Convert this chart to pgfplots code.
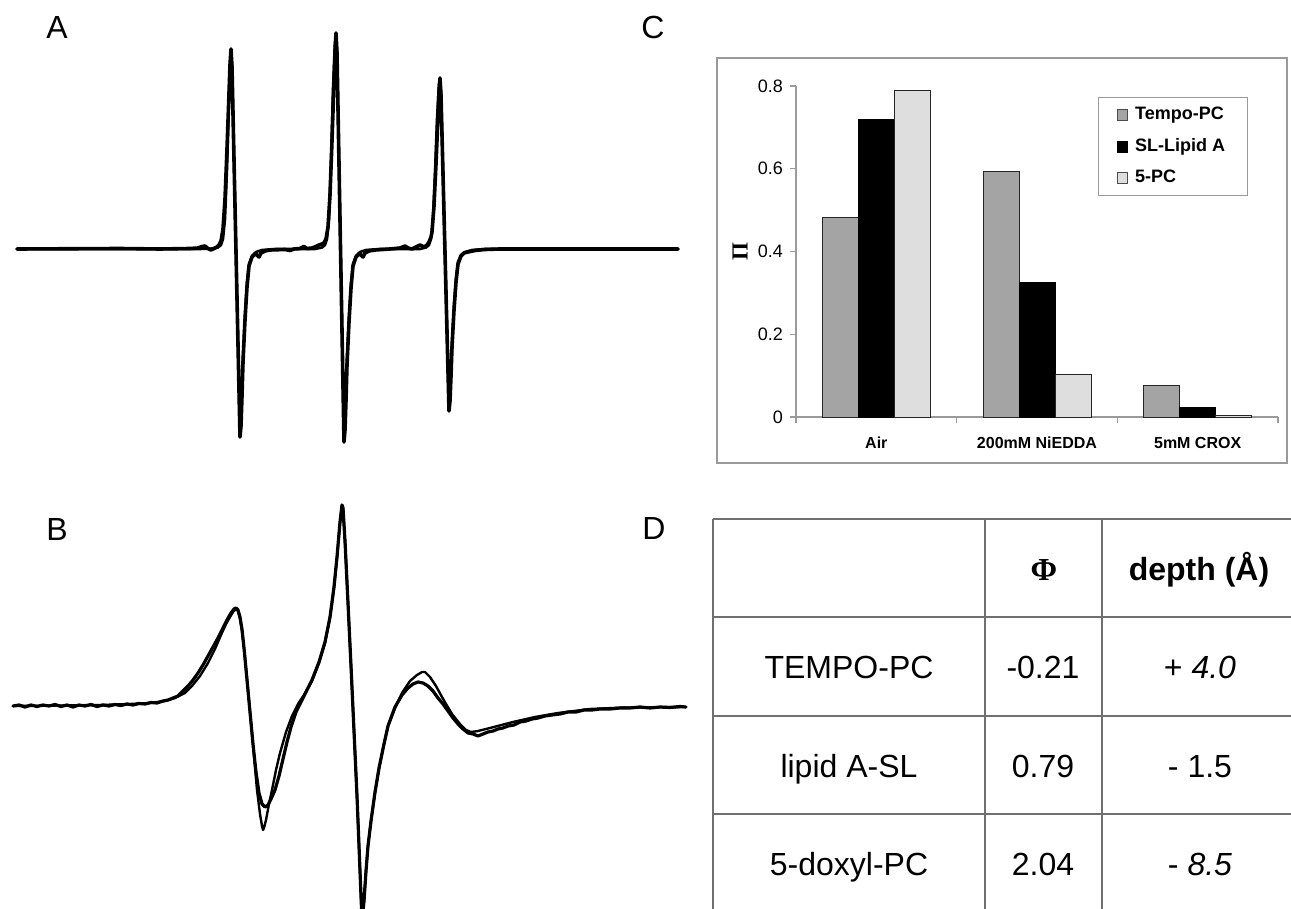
\documentclass[border=0pt]{standalone}
\usepackage{pgfplots}
\pgfplotsset{compat=1.18}
\usepackage{fontspec}
\setmainfont{Liberation Sans}
\newfontfamily\timesfont{Liberation Serif}
\definecolor{tempo}{HTML}{A4A4A4}
\definecolor{fivepc}{HTML}{DEDEDE}
\definecolor{framegray}{HTML}{9A9A9A}
\definecolor{tablegray}{HTML}{707070}
\begin{document}
\begin{tikzpicture}
\useasboundingbox (0,0) rectangle (645.5pt,-454.5pt);
% ---------------- Panel A ----------------
\begin{axis}[at={(0pt,0pt)}, anchor=north west, scale only axis,
  width=350pt, height=230pt, xmin=0, xmax=700, ymin=-211, ymax=249,
  hide axis, clip=false]
\addplot[black, line width=1.8pt, line join=round, line cap=round] coordinates {
(17,0) (120,0.5) (160,0) (190,0.5) (198,1) (202,2.5) (205,3) (208,0.5) (211,-1) (214,0.5) (217,2) (219,4) (221,8) (223,20) (225,50) (227,100) (229,156) (230,184) (231,200) (232,182) (240,-188) (241,-177) (242,-147) (243,-113) (245,-71) (247,-38) (249,-17) (252,-8) (255,-5) (257,-6) (259,-8) (261,-4) (265,-2) (270,-1) (285,-0.5) (290,-1.5) (294,0) (300,0.5) (304,2.5) (307,0.5) (312,1) (316,2.5) (319,4) (322,5) (324,6) (326,10) (328,22) (330,54) (332,108) (334,168) (335,199) (336,216) (337,196) (344,-193) (345,-181) (346,-151) (347,-116) (349,-73) (351,-39) (353,-17) (356,-8) (359,-5) (361,-6) (363,-8) (365,-4) (369,-2) (375,-1) (390,0) (400,1) (405,3) (408,1) (412,0) (416,2) (420,4) (424,2) (427,4) (429,7) (431,12) (432,17) (434,43) (436,85) (438,133) (439,158) (440,171) (441,154) (449,-162) (450,-152) (451,-127) (452,-98) (454,-61) (456,-33) (458,-15) (461,-7) (464,-4) (468,-3) (475,-1.5) (485,-0.5) (500,0) (678,0)
};
\addplot[black, line width=1.3pt, line join=round, line cap=round] coordinates {
(17,0) (200,0) (212,0.5) (218,1.5) (221,4) (223,10) (225,30) (227,80) (229,150) (230,185) (231,198) (232,184) (240,-186) (241,-172) (242,-140) (243,-108) (245,-66) (247,-33) (249,-15) (252,-7) (256,-3) (262,-1) (275,0) (315,0) (322,1.5) (325,4) (327,10) (329,30) (331,85) (333,160) (335,205) (336,214) (337,198) (344,-191) (345,-177) (346,-145) (347,-110) (349,-68) (351,-35) (353,-15) (356,-7) (360,-3) (366,-1) (380,0) (420,0) (426,1.5) (429,4) (431,10) (433,30) (435,75) (437,130) (439,165) (440,170) (441,156) (449,-160) (450,-148) (451,-122) (452,-94) (454,-57) (456,-30) (458,-13) (461,-6) (465,-3) (472,-1) (485,0) (678,0)
};
\end{axis}
% ---------------- Panel B ----------------
\begin{axis}[at={(0pt,-245pt)}, anchor=north west, scale only axis,
  width=350pt, height=209.5pt, xmin=0, xmax=700, ymin=-203, ymax=216,
  hide axis, clip=true]
\addplot[black, line width=1.6pt, line join=round, line cap=round] coordinates {
(13,0) (19,1) (25,-1) (31,1) (37,-0.5) (43,1) (49,0) (55,1.5) (61,-0.5) (67,1) (73,-1) (79,1) (85,0) (91,1.5) (97,-0.5) (103,1) (109,0) (115,1.5) (121,0.5) (127,2) (133,1) (139,2.5) (145,2) (151,3.5) (157,3) (163,5) (168,6) (173,8) (178,10) (183,15) (188,20) (193,26) (198,33) (203,41) (208,50) (213,59) (218,68) (223,78) (227,86) (231,93) (234,97) (236,98) (238,96) (240,89) (242,77) (244,58) (247,26) (250,-6) (253,-38) (256,-66) (259,-87) (262,-98) (265,-101) (268,-99) (271,-93) (275,-84) (279,-70) (283,-53) (287,-36) (291,-21) (296,-6) (301,4) (306,14) (312,26) (319,44) (325,64) (330,89) (334,119) (337,149) (340,184) (342,201) (343,198) (345,165) (348,103) (351,40) (354,-25) (357,-90) (360,-165) (362,-215) (364,-195) (366,-165) (368,-140) (371,-115) (375,-86) (379,-62) (384,-38) (388,-20) (395,-1) (402,11) (408,18) (413,22) (418,24) (423,23) (428,20) (433,15) (438,8) (443,2) (448,-5) (453,-12) (458,-18) (463,-23) (468,-27) (473,-28) (478,-30) (483,-28) (488,-26) (493,-25) (498,-23) (503,-22) (508,-20) (514,-19) (520,-16) (526,-15) (532,-13) (538,-12) (545,-10) (552,-9) (560,-8) (568,-6) (576,-6) (584,-4) (592,-4) (600,-3) (610,-3) (620,-2) (630,-2) (640,-1) (650,-2) (660,-1) (670,-1.5) (680,-0.5) (686,-1)
};
\addplot[black, line width=1.2pt, line join=round, line cap=round] coordinates {
(13,0) (60,0.5) (100,1) (130,2) (150,3) (165,5) (175,8) (185,13) (192,20) (200,30) (208,43) (215,57) (221,71) (226,82) (230,89) (233,94) (236,97) (238,95) (240,87) (242,75) (245,49) (248,17) (251,-17) (254,-50) (257,-84) (260,-108) (262,-120) (263,-124) (264,-122) (266,-114) (269,-98) (272,-84) (276,-64) (280,-47) (286,-26) (292,-10) (298,2) (304,11) (312,25) (319,43) (325,63) (330,88) (334,118) (337,148) (340,183) (342,201) (343,198) (345,165) (348,103) (351,40) (354,-25) (357,-90) (360,-165) (362,-215) (364,-195) (366,-165) (368,-140) (371,-115) (375,-87) (379,-63) (384,-38) (388,-20) (395,-2) (402,13) (410,25) (417,31) (422,34) (425,34) (430,29) (436,20) (442,9) (446,2) (452,-8) (460,-18) (466,-24) (471,-26) (478,-25) (490,-22) (513,-16) (535,-11) (558,-7) (590,-3) (625,-1.5) (686,-1)
};
\end{axis}
% ---------------- Panel C ----------------
\draw[framegray, line width=0.7pt] (358.5pt,-29pt) rectangle (643.5pt,-231.5pt);
\begin{axis}[at={(398pt,-208.5pt)}, anchor=south west, scale only axis,
  width=241pt, height=165.5pt,
  ybar=0pt, bar width=18pt,
  xmin=-0.5, xmax=2.5, ymin=0, ymax=0.8, enlargelimits=false,
  axis x line*=bottom, axis y line*=left,
  axis line style={framegray, line width=0.6pt},
  tick style={framegray, line width=0.6pt},
  tick align=outside, major tick length=3pt,
  xtick={-0.5,0.5,1.5,2.5}, xticklabels={},
  extra x ticks={0,1,2},
  extra x tick labels={Air,200mM NiEDDA,5mM CROX},
  extra x tick style={major tick length=0pt,
    tick label style={font=\bfseries\fontsize{8}{9}\selectfont, yshift=-6.5pt}},
  ytick={0,0.2,0.4,0.6,0.8}, yticklabels={0,0.2,0.4,0.6,0.8},
  yticklabel style={font=\fontsize{9}{10}\selectfont},
  /pgf/number format/assume math mode=true,
  legend style={at={(0.627,0.967)}, anchor=north west, draw=framegray,
    font=\bfseries\fontsize{9}{10.5}\selectfont, inner xsep=9pt, inner ysep=3pt,
    row sep=3.8pt},
  legend cell align=left,
  ]
\addplot[fill=tempo, draw=black!85, line width=0.5pt,
  legend image code/.code={\draw[fill=tempo, draw=black!70, line width=0.4pt] (0pt,-2.7pt) rectangle (5.4pt,2.7pt); \path (6.8pt,0pt);}]
  coordinates {(0,0.482) (1,0.593) (2,0.075)};
\addplot[fill=black, draw=black, line width=0.5pt,
  legend image code/.code={\draw[fill=black, draw=black, line width=0.4pt] (0pt,-2.7pt) rectangle (5.4pt,2.7pt); \path (6.8pt,0pt);}]
  coordinates {(0,0.718) (1,0.325) (2,0.023)};
\addplot[fill=fivepc, draw=black!85, line width=0.5pt,
  legend image code/.code={\draw[fill=fivepc, draw=black!70, line width=0.4pt] (0pt,-2.7pt) rectangle (5.4pt,2.7pt); \path (6.8pt,0pt);}]
  coordinates {(0,0.789) (1,0.103) (2,0.004)};
\legend{Tempo-PC, SL-Lipid A, 5-PC}
\end{axis}
\node[rotate=90, font=\timesfont\bfseries\fontsize{11.5}{12}\selectfont] at (370pt,-126pt) {Π};
% ---------------- Panel labels ----------------
\node[anchor=base, font=\fontsize{16}{18}\selectfont] at (28.5pt,-19.5pt) {A};
\node[anchor=base, font=\fontsize{16}{18}\selectfont] at (326.5pt,-19.5pt) {C};
\node[anchor=base, font=\fontsize{16}{18}\selectfont] at (28.5pt,-270pt) {B};
\node[anchor=base, font=\fontsize{16}{18}\selectfont] at (327pt,-269.5pt) {D};
% ---------------- Panel D (table) ----------------
\begin{scope}[tablegray, line width=0.7pt]
\draw (356.5pt,-259.5pt) -- (650pt,-259.5pt);
\draw (356.5pt,-308.5pt) -- (650pt,-308.5pt);
\draw (356.5pt,-358pt) -- (650pt,-358pt);
\draw (356.5pt,-407pt) -- (650pt,-407pt);
\draw (356.5pt,-259.5pt) -- (356.5pt,-460pt);
\draw (492.5pt,-259.5pt) -- (492.5pt,-460pt);
\draw (551pt,-259.5pt) -- (551pt,-460pt);
\end{scope}
\begin{scope}[every node/.style={anchor=base, font=\fontsize{16}{18}\selectfont}]
\node[font=\timesfont\bfseries\fontsize{16}{18}\selectfont] at (522pt,-290pt) {Φ};
\node[font=\bfseries\fontsize{16}{18}\selectfont] at (599.5pt,-290pt) {depth (Å)};
\node at (424.5pt,-339pt) {TEMPO-PC};
\node at (521.5pt,-339pt) {-0.21};
\node at (600pt,-339pt) {+ \textit{4.0}};
\node at (424.5pt,-388.5pt) {lipid A-SL};
\node at (521.5pt,-388.5pt) {0.79};
\node at (600pt,-388.5pt) {- 1.5};
\node at (424.5pt,-437.5pt) {5-doxyl-PC};
\node at (521.5pt,-437.5pt) {2.04};
\node at (600pt,-437.5pt) {- \textit{8.5}};
\end{scope}
\end{tikzpicture}
\end{document}
